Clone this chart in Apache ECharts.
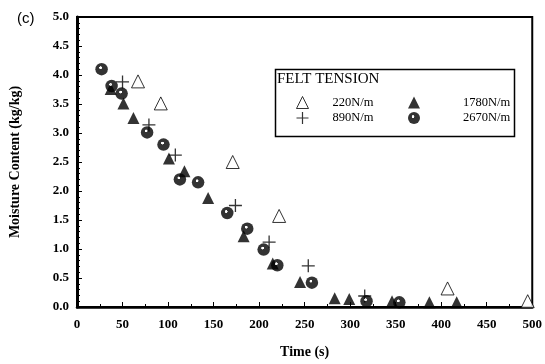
<!DOCTYPE html>
<html>
<head>
<meta charset="utf-8">
<script src="https://cdn.jsdelivr.net/npm/echarts@6/dist/echarts.min.js"></script>
<style>
  html, body { margin: 0; padding: 0; background: #fff; }
  #chart { width: 545px; height: 364px; }
</style>
</head>
<body>
<div id="chart"></div>
<script>
// Drying curves: moisture content vs time for four felt tensions
const tension220 = [[67, 3.89], [92, 3.51], [171, 2.50], [222, 1.57], [407, 0.32], [495, 0.10]];
const tension890 = [[50, 3.88], [79, 3.14], [108, 2.62], [174, 1.75], [211, 1.12], [254, 0.71], [316, 0.19]];
const tension1780 = [[37, 3.76], [51, 3.51], [62, 3.26], [101, 2.56], [118, 2.34], [144, 1.88], [183, 1.22],
  [215, 0.75], [245, 0.43], [283, 0.15], [299, 0.14], [346, 0.10], [387, 0.08], [417, 0.08]];
const tension2670 = [[27, 4.10], [38, 3.81], [49, 3.68], [77, 3.01], [95, 2.80], [113, 2.20], [133, 2.15],
  [165, 1.62], [187, 1.35], [205, 0.99], [220, 0.72], [258, 0.42], [318, 0.10], [354, 0.08]];

const seriesNames = ['220N/m', '890N/m', '1780N/m', '2670N/m'];
const xTicks = { min: 0, max: 500, interval: 50 };
const yTicks = { min: 0, max: 5, interval: 0.5 };

const serif = 'Liberation Serif, Times New Roman, serif';
const plusPath = 'path://M4.5,0h1v4.5h4.5v1h-4.5v4.5h-1v-4.5h-4.5v-1h4.5z';
const sphere = {
  type: 'radial', x: 0.42, y: 0.38, r: 0.5,
  colorStops: [
    { offset: 0, color: '#fff' }, { offset: 0.18, color: '#fff' },
    { offset: 0.26, color: '#000' }, { offset: 1, color: '#000' }
  ]
};

const legendText = pad => ({ fontFamily: serif, fontSize: 12.5, lineHeight: 12, color: '#000', padding: [0, 0, 0, pad] });

const chart = echarts.init(document.getElementById('chart'), null, { renderer: 'canvas' });

chart.setOption({
  animation: false,
  backgroundColor: '#fff',
  grid: { left: 73, right: 9, top: 17, bottom: 48, show: true, borderColor: '#000', borderWidth: 2, backgroundColor: 'transparent' },
  xAxis: {
    type: 'value', min: xTicks.min, max: xTicks.max, interval: xTicks.interval,
    name: 'Time (s)', nameLocation: 'middle', nameGap: 38,
    nameTextStyle: { fontFamily: serif, fontWeight: 'bold', fontSize: 14, color: '#000' },
    axisLine: { lineStyle: { color: '#000', width: 2.5 } },
    axisTick: { inside: true, length: 5, lineStyle: { color: '#000', width: 1 } },
    minorTick: { show: true, splitNumber: 2, length: 3, lineStyle: { color: '#000' } },
    splitLine: { show: false },
    axisLabel: { fontFamily: serif, fontWeight: 'bold', fontSize: 13, color: '#000', margin: 11 }
  },
  yAxis: {
    type: 'value', min: yTicks.min, max: yTicks.max, interval: yTicks.interval,
    name: 'Moisture Content (kg/kg)', nameLocation: 'middle', nameGap: 55, nameRotate: 90,
    nameTextStyle: { fontFamily: serif, fontWeight: 'bold', fontSize: 14, color: '#000' },
    axisLine: { lineStyle: { color: '#000', width: 3 } },
    axisTick: { inside: true, length: 5, lineStyle: { color: '#000', width: 1 } },
    minorTick: { show: true, splitNumber: 5, length: 3, lineStyle: { color: '#000' } },
    splitLine: { show: false },
    axisLabel: { fontFamily: serif, fontWeight: 'bold', fontSize: 13, color: '#000', margin: 8,
      formatter: v => v.toFixed(1) }
  },
  legend: [
    {
      data: [seriesNames[0], seriesNames[1]], orient: 'vertical', left: 296, top: 96, padding: 0,
      itemWidth: 12, itemHeight: 12, itemGap: 2.5, selectedMode: false,
      itemStyle: { borderWidth: 1 },
      textStyle: legendText(19)
    },
    {
      data: [seriesNames[2], seriesNames[3]], orient: 'vertical', left: 408, top: 96, padding: 0,
      itemWidth: 12, itemHeight: 12, itemGap: 2.5, selectedMode: false,
      textStyle: legendText(38)
    }
  ],
  graphic: [
    { type: 'text', left: 17, top: 11, style: { text: '(c)', font: '15px Liberation Sans, Arial, sans-serif', fill: '#000' } },
    { type: 'rect', left: 273, top: 67, shape: { width: 239, height: 67 }, style: { fill: 'none', stroke: '#000', lineWidth: 1.5 }, z: 10 },
    { type: 'text', left: 277, top: 72, style: { text: 'FELT TENSION', font: '15px Liberation Serif, serif', fill: '#000' }, z: 10 }
  ],
  series: [
    {
      name: seriesNames[0], type: 'scatter', data: tension220, symbol: 'triangle', symbolSize: 13,
      itemStyle: { color: '#fff', borderColor: '#000', borderWidth: 1 }
    },
    {
      name: seriesNames[1], type: 'scatter', data: tension890, symbol: plusPath, symbolSize: 13,
      itemStyle: { color: '#000' }
    },
    {
      name: seriesNames[2], type: 'scatter', data: tension1780, symbol: 'triangle', symbolSize: 12,
      itemStyle: { color: '#000' }
    },
    {
      name: seriesNames[3], type: 'scatter', data: tension2670, symbol: 'circle', symbolSize: 12.5,
      itemStyle: { color: sphere }
    }
  ]
});
</script>
</body>
</html>
